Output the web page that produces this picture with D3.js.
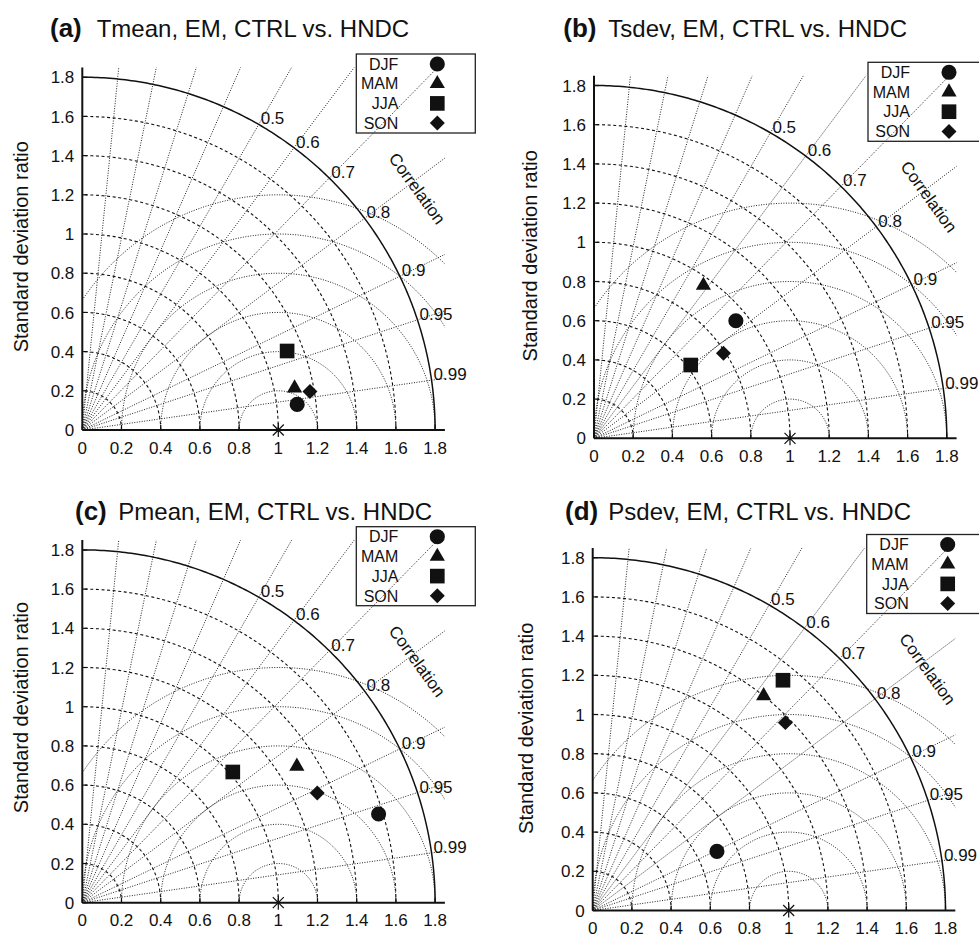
<!DOCTYPE html>
<html>
<head>
<meta charset="utf-8">
<script src="https://cdn.jsdelivr.net/npm/d3@7"></script>
<style>
  body { margin: 0; background: #fff; }
  text { font-family: "Liberation Sans", Arial, sans-serif; fill: #111; }
</style>
</head>
<body>
<svg width="979" height="937"></svg>
<script>
// ---- data ----
var seasons = ["DJF", "MAM", "JJA", "SON"];
var panelTags = ["(a)", "(b)", "(c)", "(d)"];
var panelTitles = ["Tmean, EM, CTRL vs. HNDC", "Tsdev, EM, CTRL vs. HNDC",
                   "Pmean, EM, CTRL vs. HNDC", "Psdev, EM, CTRL vs. HNDC"];
// standard deviation ratio, one row per panel, columns = seasons
var sdRatio = [
  [1.104, 1.104, 1.120, 1.178],
  [0.940, 0.959, 0.619, 0.790],
  [1.578, 1.297, 1.017, 1.323],
  [0.702, 1.400, 1.524, 1.373]
];
// correlation, same layout
var corr = [
  [0.993, 0.981, 0.933, 0.986],
  [0.770, 0.582, 0.797, 0.836],
  [0.958, 0.844, 0.755, 0.906],
  [0.903, 0.623, 0.637, 0.716]
];
var sdTicks = [0, 0.2, 0.4, 0.6, 0.8, 1, 1.2, 1.4, 1.6, 1.8];
var sdArcs = [0.2, 0.4, 0.6, 0.8, 1, 1.2, 1.4, 1.6];
var corrRays = [0.1, 0.2, 0.3, 0.4, 0.5, 0.6, 0.7, 0.8, 0.9, 0.95, 0.99];
var corrLabels = [0.5, 0.6, 0.7, 0.8, 0.9, 0.95, 0.99];
var rmsCircles = [0.2, 0.4, 0.6, 0.8, 1, 1.2];
var refRatio = 1;
var outerRatio = 1.8;

// ---- layout (pixels) ----
var layout = [
  {ox: 82.3, oy: 430,   tagX: 50,    textX: 96.7,  titleY: 36.7, labX: 28.3,  labY: 246.7},
  {ox: 594,  oy: 438.3, tagX: 563.3, textX: 608.3, titleY: 36.7, labX: 536.7, labY: 255.8},
  {ox: 82.3, oy: 902.7, tagX: 75,    textX: 118.3, titleY: 520,  labX: 28.3,  labY: 707.5},
  {ox: 592.7, oy: 910.5, tagX: 565,  textX: 608.3, titleY: 520,  labX: 533.3, labY: 728.3}
];
var MAXR = 1.85;
var s = d3.scaleLinear().domain([0, MAXR]).range([0, MAXR * 196]);
var fmt = d3.format(".1~f");
var symbols = [d3.symbolCircle, d3.symbolTriangle, d3.symbolSquare, d3.symbolSquare];
var symSize = [180, 100, 215, 112];
var symRot = [0, 0, 0, 45];

var svg = d3.select("svg");
svg.append("defs").append("clipPath").attr("id", "box")
  .append("rect").attr("x", 0).attr("y", -s(MAXR)).attr("width", s(MAXR)).attr("height", s(MAXR));

function pt(r, c) {
  var th = Math.acos(c);
  return [s(r * Math.cos(th)), -s(r * Math.sin(th))];
}
var line = d3.line();

panelTitles.forEach(function(title, p) {
  var L = layout[p];
  var g = svg.append("g").attr("transform", "translate(" + L.ox + "," + L.oy + ")");
  var grid = g.append("g").attr("clip-path", "url(#box)");

  // correlation rays
  grid.selectAll(".ray").data(corrRays).enter().append("line")
    .attr("x1", 0).attr("y1", 0)
    .attr("x2", function(d) { return pt(3, d)[0]; })
    .attr("y2", function(d) { return pt(3, d)[1]; })
    .attr("stroke", "#222").attr("stroke-width", 1).attr("stroke-dasharray", "1 1.5");

  // centred RMS difference arcs around the reference point
  grid.selectAll(".rms").data(rmsCircles).enter().append("path")
    .attr("d", function(R) {
      return line(d3.range(0, 181, 2).map(function(a) {
        var t = a * Math.PI / 180;
        return [s(refRatio + R * Math.cos(t)), -s(R * Math.sin(t))];
      }));
    })
    .attr("fill", "none").attr("stroke", "#222").attr("stroke-width", 1).attr("stroke-dasharray", "1 1.5");

  // std ratio arcs
  grid.selectAll(".sd").data(sdArcs).enter().append("path")
    .attr("d", function(r) {
      return line(d3.range(0, 91, 1).map(function(a) {
        var t = a * Math.PI / 180;
        return [s(r * Math.cos(t)), -s(r * Math.sin(t))];
      }));
    })
    .attr("fill", "none").attr("stroke", "#111").attr("stroke-width", 1.1).attr("stroke-dasharray", "3 2.6");

  // outer arc
  g.append("path")
    .attr("d", line(d3.range(0, 90.5, 0.5).map(function(a) {
      var t = a * Math.PI / 180;
      return [s(outerRatio * Math.cos(t)), -s(outerRatio * Math.sin(t))];
    })))
    .attr("fill", "none").attr("stroke", "#111").attr("stroke-width", 1.5);

  // axes
  g.append("line").attr("x1", 0).attr("y1", 0).attr("x2", s(MAXR)).attr("y2", 0)
    .attr("stroke", "#111").attr("stroke-width", 2);
  g.append("line").attr("x1", 0).attr("y1", 0).attr("x2", 0).attr("y2", -s(MAXR))
    .attr("stroke", "#111").attr("stroke-width", 2);

  // ticks
  g.selectAll(".xt").data(sdTicks).enter().append("line")
    .attr("x1", function(d) { return s(d); }).attr("x2", function(d) { return s(d); })
    .attr("y1", 0).attr("y2", -5).attr("stroke", "#111").attr("stroke-width", 1.2);
  g.selectAll(".yt").data(sdTicks).enter().append("line")
    .attr("y1", function(d) { return -s(d); }).attr("y2", function(d) { return -s(d); })
    .attr("x1", 0).attr("x2", 5).attr("stroke", "#111").attr("stroke-width", 1.2);
  g.selectAll(".xl").data(sdTicks).enter().append("text")
    .attr("x", function(d) { return s(d); }).attr("y", 23.5)
    .attr("text-anchor", "middle").attr("font-size", 17).text(fmt);
  g.selectAll(".yl").data(sdTicks).enter().append("text")
    .attr("x", -8).attr("y", function(d) { return -s(d); }).attr("dy", "0.36em")
    .attr("text-anchor", "end").attr("font-size", 17).text(fmt);

  // correlation labels
  g.selectAll(".cl").data(corrLabels).enter().append("text")
    .attr("x", function(d) { return pt(outerRatio, d)[0] + 2; })
    .attr("y", function(d) { return pt(outerRatio, d)[1]; })
    .attr("font-size", 17).text(function(d) { return d; });
  var cp = pt(2.107, Math.cos(35.8 * Math.PI / 180));
  g.append("text").attr("transform", "translate(" + cp[0] + "," + cp[1] + ") rotate(54.2)")
    .attr("text-anchor", "middle").attr("dy", "0.35em").attr("font-size", 17).text("Correlation");

  // reference point
  g.append("path").attr("transform", "translate(" + s(refRatio) + ",0)")
    .attr("d", "M0,-7V7M-5.5,-5.5L5.5,5.5M-5.5,5.5L5.5,-5.5")
    .attr("stroke", "#111").attr("stroke-width", 1.2).attr("fill", "none");

  // season markers
  g.selectAll(".mk").data(seasons).enter().append("path")
    .attr("transform", function(d, i) {
      var q = pt(sdRatio[p][i], corr[p][i]);
      return "translate(" + q[0] + "," + q[1] + ") rotate(" + symRot[i] + ")";
    })
    .attr("d", function(d, i) { return d3.symbol().type(symbols[i]).size(symSize[i])(); })
    .attr("fill", "#111");

  // legend
  var lg = g.append("g").attr("transform", "translate(274,-376)");
  lg.append("rect").attr("width", 119).attr("height", 79)
    .attr("fill", "none").attr("stroke", "#222").attr("stroke-width", 1.3);
  seasons.forEach(function(name, i) {
    var yy = 10 + i * 19.7;
    lg.append("text").attr("x", 42).attr("y", yy).attr("dy", "0.36em")
      .attr("text-anchor", "end").attr("font-size", 16).text(name);
    lg.append("path").attr("transform", "translate(81," + yy + ") rotate(" + symRot[i] + ")")
      .attr("d", d3.symbol().type(symbols[i]).size(symSize[i])()).attr("fill", "#111");
  });

  // titles and axis label
  svg.append("text").attr("x", L.tagX).attr("y", L.titleY)
    .attr("font-size", 26).attr("font-weight", "bold").text(panelTags[p]);
  svg.append("text").attr("x", L.textX).attr("y", L.titleY)
    .attr("font-size", 24).text(title);
  svg.append("text").attr("transform", "translate(" + L.labX + "," + L.labY + ") rotate(-90)")
    .attr("text-anchor", "middle").attr("font-size", 20).text("Standard deviation ratio");
});
</script>
</body>
</html>
